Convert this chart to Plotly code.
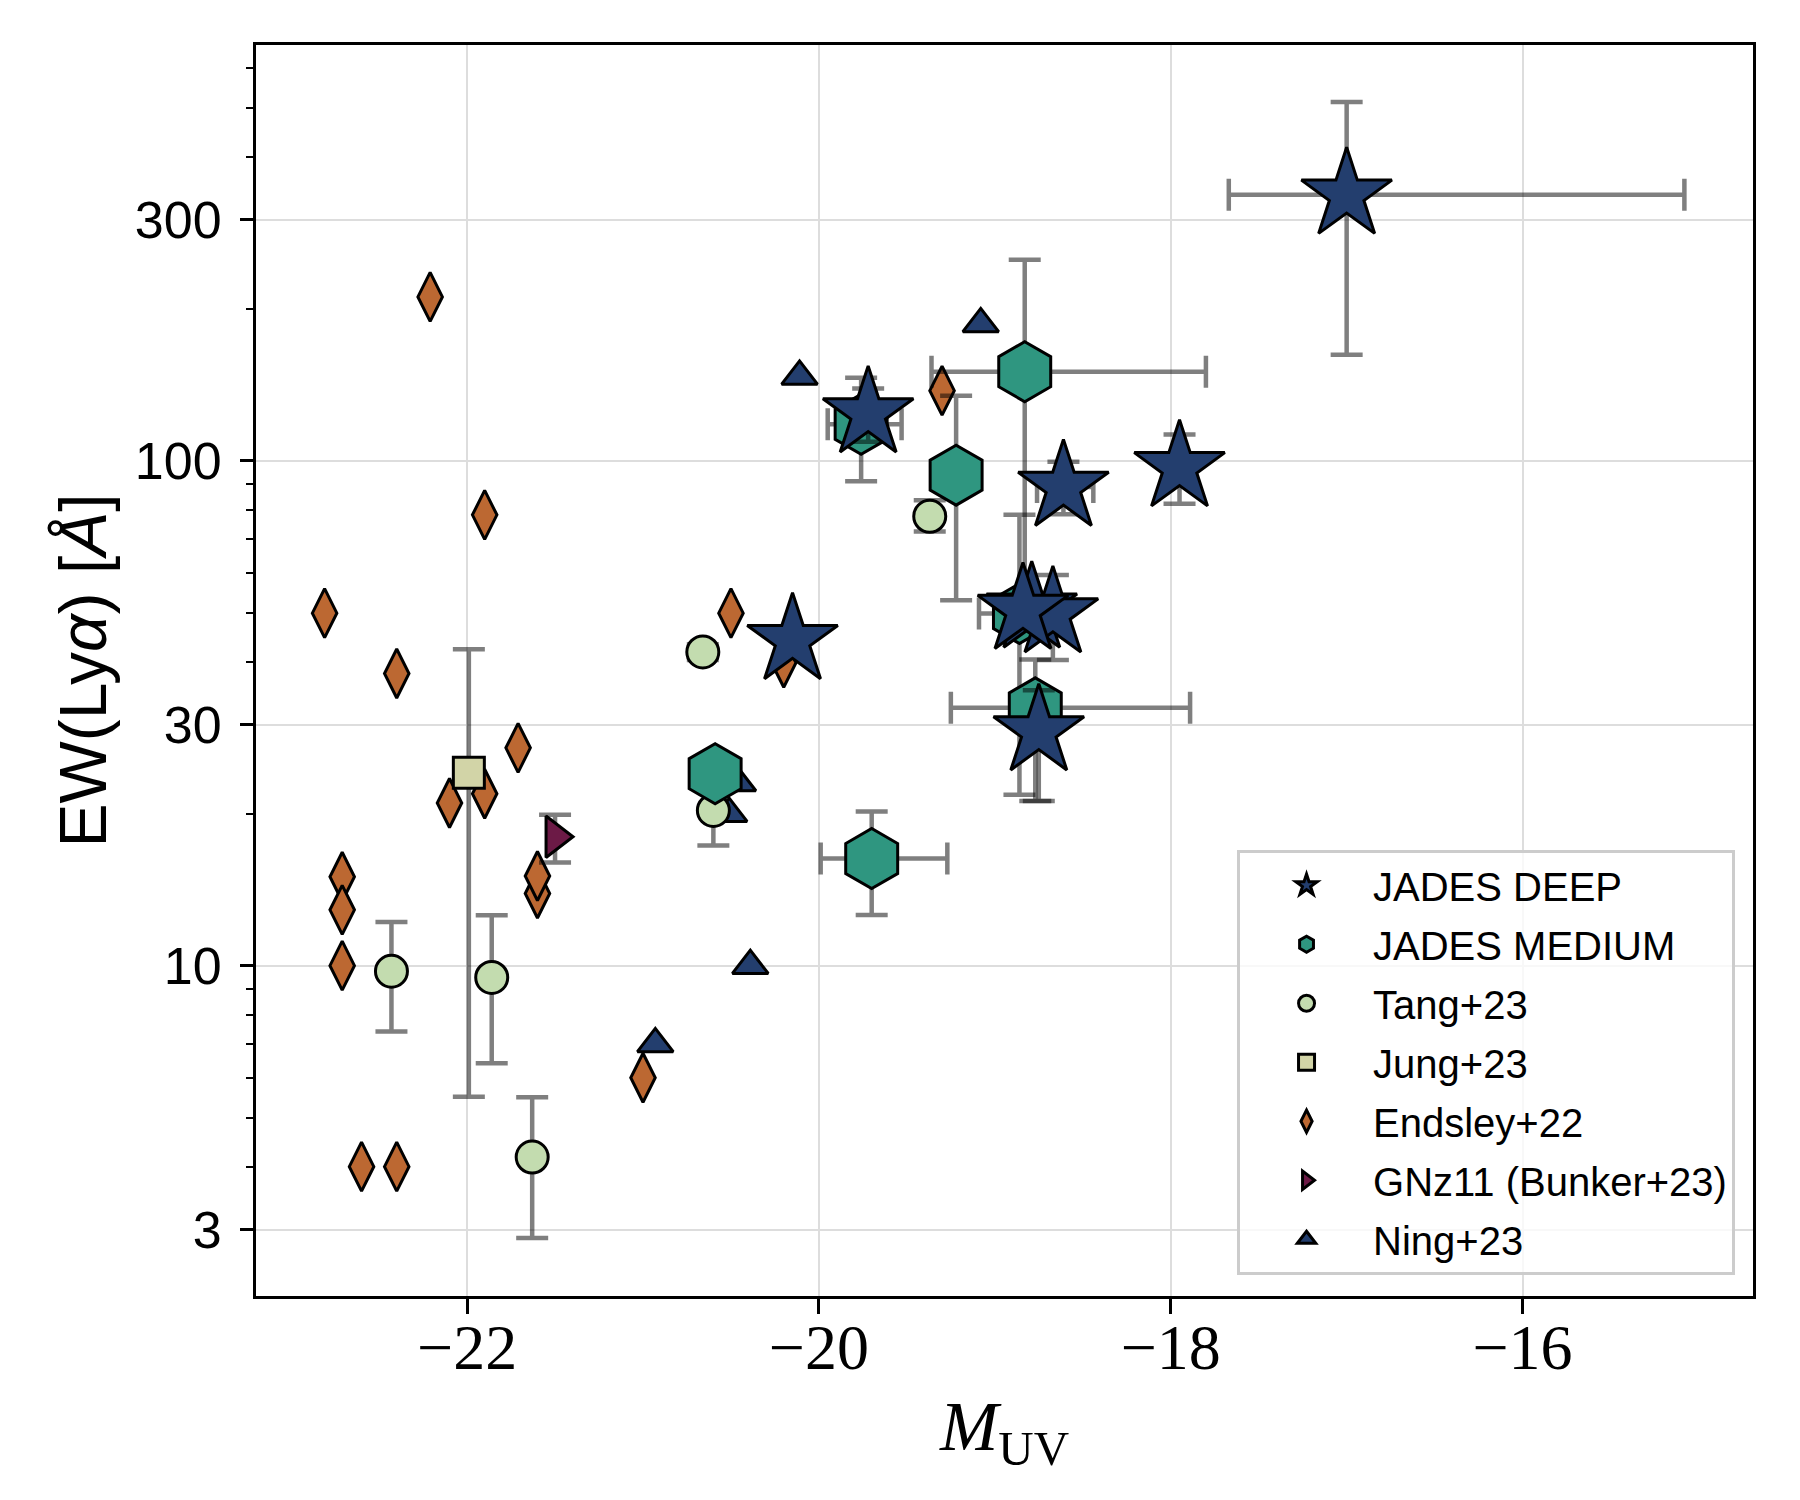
import plotly.graph_objects as go

# JADES DEEP (stars)
deep_muv = [-17.00, -17.95, -18.61, -19.72, -20.15, -18.75, -18.79, -18.67, -18.84]
deep_ew = [336, 97, 88.7, 124, 44.1, 29.1, 50.9, 49.8, 50.6]
deep_muv_lo = [0.67, 0, 0.15, 0, 0, 0, 0, 0, 0]
deep_muv_hi = [1.92, 0, 0.17, 0, 0, 0, 0, 0, 0]
deep_ew_lo = [174, 14.8, 10.4, 15, 0, 7.9, 0, 9.5, 0]
deep_ew_hi = [177, 15.6, 10.8, 15, 0, 6.0, 0, 9.6, 0]

# JADES MEDIUM (hexagons)
med_muv = [-18.83, -19.22, -19.76, -18.86, -18.77, -19.70, -20.59]
med_ew = [150, 93.6, 118, 49.8, 32.4, 16.3, 24.0]
med_muv_lo = [0.53, 0, 0.19, 0.23, 0.48, 0.29, 0]
med_muv_hi = [1.03, 0, 0.23, 0.20, 0.88, 0.43, 0]
med_ew_lo = [95, 40.7, 27, 28, 11.2, 3.7, 0]
med_ew_hi = [100, 40.9, 28, 28.3, 8.0, 3.9, 0]

# Tang+23
tang_muv = [-22.43, -21.86, -21.63, -20.60, -20.66, -19.37]
tang_ew = [9.75, 9.48, 4.18, 20.3, 41.8, 77.6]
tang_ew_lo = [2.34, 3.07, 1.29, 3.0, 1.5, 5.2]
tang_ew_hi = [2.45, 3.1, 1.31, 2.5, 1.5, 5.9]

# Jung+23
jung_muv = [-21.99]
jung_ew = [24.1]
jung_ew_lo = [18.6]
jung_ew_hi = [18.2]

# Endsley+22
ends_muv = [-22.21, -21.90, -22.81, -22.40, -21.71, -22.10, -21.90, -22.71, -22.71,
            -22.71, -21.60, -21.60, -22.60, -22.40, -21.00, -19.30, -20.50, -20.20]
ends_ew = [211, 78.1, 49.9, 37.9, 27.0, 21.0, 21.9, 15.0, 12.9,
           10.0, 13.9, 15.05, 4.0, 4.0, 6.0, 137.6, 49.9, 39.8]

# GNz11 (Bunker+23)
gnz_muv = [-21.50]
gnz_ew = [18.0]
gnz_ew_lo = [2.0]
gnz_ew_hi = [1.9]

# Ning+23
ning_muv = [-20.93, -20.39, -20.46, -20.51, -20.11, -19.08]
ning_ew = [7.0, 10.0, 23.0, 20.0, 146.8, 186.5]

x_ticks = [-22, -20, -18, -16]
y_ticks = [3, 10, 30, 100, 300]
y_minor = [2, 4, 5, 6, 7, 8, 9, 20, 40, 50, 60, 70, 80, 90, 200, 400, 500, 600]

navy = '#233e6e'
err_color = 'rgba(0,0,0,0.5)'
sans = 'Liberation Sans'
serif = 'Liberation Serif'


def err(plus, minus):
    return dict(type='data', symmetric=False, array=plus, arrayminus=minus,
                color=err_color, thickness=4.5, width=16)


def marker(symbol, size, color):
    return dict(symbol=symbol, size=size, color=color,
                line=dict(color='black', width=3))


fig = go.Figure()

# bottom to top drawing order, legend order set by legendrank
fig.add_trace(go.Scatter(
    x=ends_muv, y=ends_ew, mode='markers', name='Endsley+22',
    marker=marker('diamond-tall', 35, '#bc6832'),
    legendrank=5, legendgroup='e'))
fig.add_trace(go.Scatter(
    x=gnz_muv, y=gnz_ew, mode='markers', name='GNz11 (Bunker+23)',
    marker=marker('triangle-right', 36, '#6c1a46'),
    error_y=err(gnz_ew_hi, gnz_ew_lo),
    legendrank=6, legendgroup='g'))
fig.add_trace(go.Scatter(
    x=ning_muv, y=ning_ew, mode='markers', name='Ning+23',
    marker=marker('triangle-up', 31, navy),
    legendrank=7, legendgroup='n'))
fig.add_trace(go.Scatter(
    x=jung_muv, y=jung_ew, mode='markers', name='Jung+23',
    marker=marker('square', 31, '#d2d4a7'),
    error_y=err(jung_ew_hi, jung_ew_lo),
    legendrank=4, legendgroup='j'))
fig.add_trace(go.Scatter(
    x=tang_muv, y=tang_ew, mode='markers', name='Tang+23',
    marker=marker('circle', 32, '#c3dcaf'),
    error_y=err(tang_ew_hi, tang_ew_lo),
    legendrank=3, legendgroup='t'))
fig.add_trace(go.Scatter(
    x=med_muv, y=med_ew, mode='markers', name='JADES MEDIUM',
    marker=marker('hexagon', 60, '#2f9680'),
    error_x=err(med_muv_hi, med_muv_lo),
    error_y=err(med_ew_hi, med_ew_lo),
    legendrank=2, legendgroup='m'))
fig.add_trace(go.Scatter(
    x=deep_muv, y=deep_ew, mode='markers', name='JADES DEEP',
    marker=marker('star', 68, navy),
    error_x=err(deep_muv_hi, deep_muv_lo),
    error_y=err(deep_ew_hi, deep_ew_lo),
    legendrank=1, legendgroup='d'))

fig.update_xaxes(
    range=[-23.2, -14.69], tickvals=x_ticks,
    showline=True, linecolor='black', linewidth=3, mirror=True,
    ticks='outside', ticklen=15, tickwidth=2.5, tickcolor='black',
    tickfont=dict(family=serif, size=64, color='black'),
    ticklabelstandoff=-22,
    showgrid=True, gridcolor='#dddddd', gridwidth=2, zeroline=False,
    title=dict(text='<i>M</i><sub>UV</sub>',
               font=dict(family=serif, size=70, color='black'), standoff=20),
)
fig.update_yaxes(
    type='log', range=[0.346, 2.823], tickvals=y_ticks,
    ticktext=[str(v) for v in y_ticks],
    showline=True, linecolor='black', linewidth=3, mirror=True,
    ticks='outside', ticklen=13, tickwidth=2.5, tickcolor='black',
    tickfont=dict(family=sans, size=52, color='black'),
    ticklabelstandoff=8,
    showgrid=True, gridcolor='#dddddd', gridwidth=2, zeroline=False,
    minor=dict(tickvals=y_minor, ticks='outside', ticklen=7, tickwidth=2,
               tickcolor='black', showgrid=False),
    title=dict(text='EW(Ly<i>α</i>) [<i>Å</i>]',
               font=dict(family=sans, size=66, color='black'), standoff=7),
)

fig.update_layout(
    width=1800, height=1500,
    margin=dict(l=248, r=55, t=37, b=212),
    paper_bgcolor='white', plot_bgcolor='white',
    showlegend=True,
    legend=dict(
        x=0.988, y=0.017, xanchor='right', yanchor='bottom',
        bgcolor='rgba(255,255,255,0.8)', bordercolor='#cccccc', borderwidth=3,
        font=dict(family=sans, size=40, color='black'),
        tracegroupgap=4, itemwidth=123, entrywidth=381,
    ),
)

fig.write_html("out.html")
